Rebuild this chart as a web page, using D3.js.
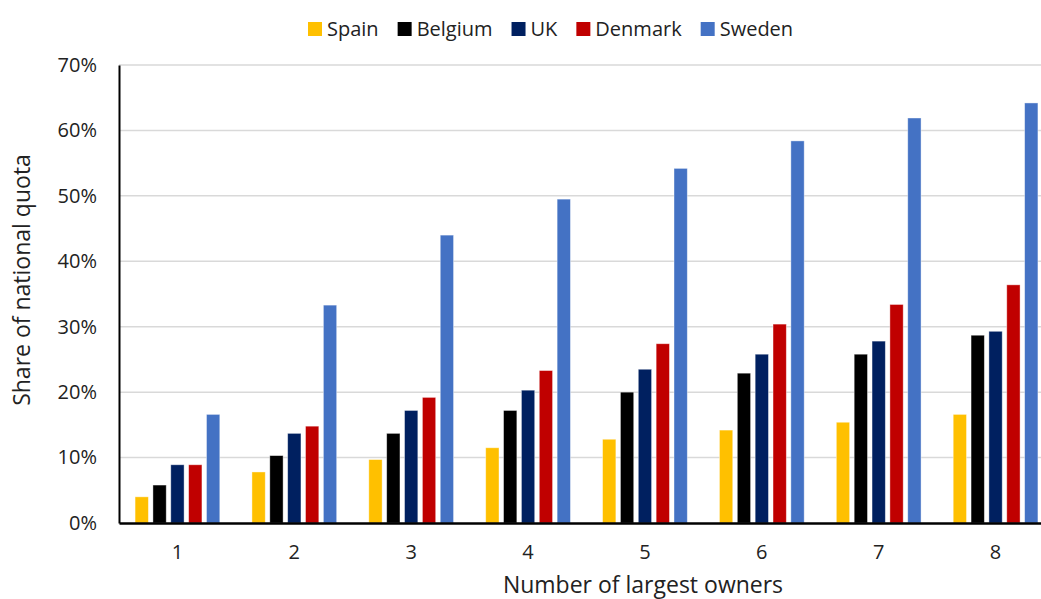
<!DOCTYPE html>
<html>
<head>
<meta charset="utf-8">
<script src="https://cdn.jsdelivr.net/npm/d3@7"></script>
<style>
  body { margin: 0; background: #fff; }
  svg { display: block; font-family: "Open Sans", Lato, sans-serif; }
</style>
</head>
<body>
<svg width="1041" height="599"></svg>
<script>
"use strict";

// number of largest owners
var owners = ["1", "2", "3", "4", "5", "6", "7", "8"];
var countries = ["Spain", "Belgium", "UK", "Denmark", "Sweden"];
var colors = ["#FFC000", "#000000", "#002060", "#C00000", "#4472C4"];

// share of national quota, %
var spain   = [4.0, 7.8, 9.7, 11.5, 12.8, 14.2, 15.4, 16.6];
var belgium = [5.8, 10.3, 13.7, 17.2, 20.0, 22.9, 25.8, 28.7];
var uk      = [8.9, 13.7, 17.2, 20.3, 23.5, 25.8, 27.8, 29.3];
var denmark = [8.9, 14.8, 19.2, 23.3, 27.4, 30.4, 33.4, 36.4];
var sweden  = [16.6, 33.3, 44.0, 49.5, 54.2, 58.4, 61.9, 64.2];

var yTicks = [0, 10, 20, 30, 40, 50, 60, 70];

var series = [spain, belgium, uk, denmark, sweden];

var svg = d3.select("svg"),
    plotLeft = 119, plotRight = 1054,
    plotTop = 65, plotBottom = 523;

var x0 = d3.scaleBand()
    .domain(owners)
    .range([plotLeft, plotRight])
    .paddingInner(0.275)
    .paddingOuter(0.1375);

var x1 = d3.scaleBand()
    .domain(countries)
    .range([0, x0.bandwidth()])
    .paddingInner(0.255);

var y = d3.scaleLinear()
    .domain([0, 70])
    .range([plotBottom, plotTop]);

var color = d3.scaleOrdinal().domain(countries).range(colors);

// gridlines
svg.append("g")
    .selectAll("line")
    .data(yTicks.filter(t => t > 0))
    .enter().append("line")
    .attr("x1", plotLeft).attr("x2", 1041)
    .attr("y1", d => y(d)).attr("y2", d => y(d))
    .attr("stroke", "#d9d9d9")
    .attr("stroke-width", 1.5);

// bars
var groups = svg.append("g")
    .selectAll("g")
    .data(owners)
    .enter().append("g")
    .attr("transform", d => "translate(" + x0(d) + ",0)");

groups.selectAll("rect")
    .data((d, i) => countries.map((c, j) => ({country: c, value: series[j][i]})))
    .enter().append("rect")
    .attr("x", d => x1(d.country))
    .attr("width", x1.bandwidth())
    .attr("y", d => y(d.value))
    .attr("height", d => y(0) - y(d.value))
    .attr("fill", d => color(d.country))
    .attr("stroke", "#ffffff")
    .attr("stroke-opacity", 0.5)
    .attr("stroke-width", 0.8);

// y axis
var yAxis = svg.append("g")
    .attr("transform", "translate(" + plotLeft + ",0)")
    .call(d3.axisLeft(y).tickValues(yTicks).tickSize(0).tickPadding(22)
        .tickFormat(d => d + "%"));
yAxis.select(".domain").attr("stroke", "#000").attr("stroke-width", 2);
yAxis.selectAll("text")
    .attr("font-size", 20)
    .attr("fill", "#222")
    .attr("font-family", "'Open Sans', sans-serif");

// x axis
var xAxis = svg.append("g")
    .attr("transform", "translate(0," + plotBottom + ")")
    .call(d3.axisBottom(x0).tickSize(0).tickPadding(22));
xAxis.select(".domain").attr("stroke", "#000").attr("stroke-width", 2.5);
xAxis.selectAll("text")
    .attr("font-size", 20)
    .attr("fill", "#222")
    .attr("font-family", "'Open Sans', sans-serif");

// axis titles
svg.append("text")
    .attr("x", 643).attr("y", 593)
    .attr("text-anchor", "middle")
    .attr("font-size", 23)
    .attr("fill", "#222")
    .text("Number of largest owners");

svg.append("text")
    .attr("transform", "translate(30,280) rotate(-90)")
    .attr("text-anchor", "middle")
    .attr("font-size", 23)
    .attr("fill", "#222")
    .text("Share of national quota");

// legend
var legend = svg.append("g").attr("transform", "translate(308,29)");
var lx = 0;
countries.forEach(function(c) {
  var item = legend.append("g").attr("transform", "translate(" + lx + ",0)");
  item.append("rect")
      .attr("x", 0).attr("y", -7)
      .attr("width", 14).attr("height", 14)
      .attr("fill", color(c));
  var t = item.append("text")
      .attr("x", 19).attr("y", 7)
      .attr("font-size", 20)
      .attr("fill", "#222")
      .text(c);
  lx += 19 + t.node().getComputedTextLength() + 19;
});
</script>
</body>
</html>
